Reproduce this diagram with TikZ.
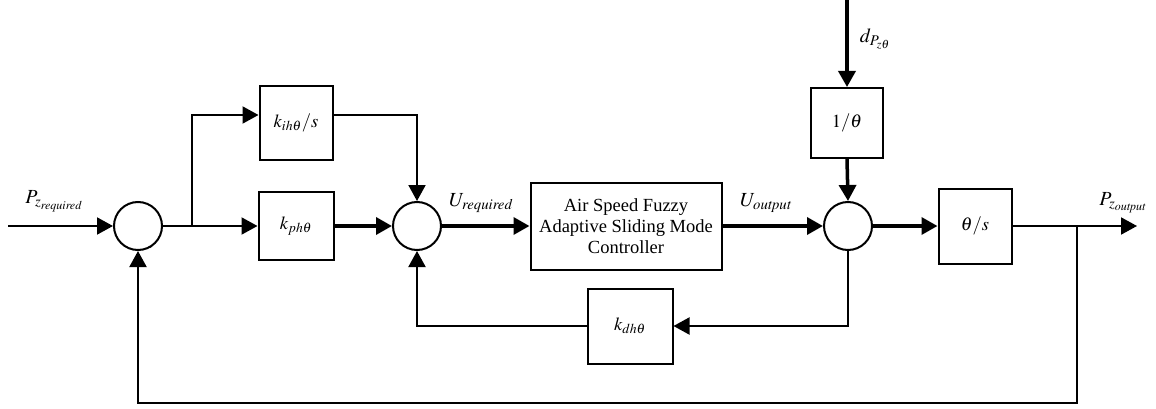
\documentclass[tikz,border=0pt]{standalone}
\usepackage{mathptmx}
\usepackage{fontspec}
\setmainfont{Liberation Serif}
\usetikzlibrary{arrows.meta}
\tikzset{
  blk/.style={rectangle, draw, line width=2pt, fill=white, align=center,
              inner sep=2pt, font=\fontsize{18.5}{21}\selectfont},
  sumc/.style={circle, draw, line width=2pt, minimum size=48pt, inner sep=0pt},
  ln/.style={line width=2pt},
  arr/.style={-{Triangle[length=16pt,width=17pt]}, line width=2pt},
  tarr/.style={arr, line width=3.5pt},
  lbl/.style={font=\fontsize{20}{22}\selectfont, inner sep=1pt},
}

\begin{document}
\begin{tikzpicture}[x=1pt, y=-1pt]
  \useasboundingbox (0,0) rectangle (1156,409);

  % ── Summing junctions ──────────────────────────────────────────────────────
  \node[sumc] at (138,226) (s1) {};
  \node[sumc] at (417,226) (s2) {};
  \node[sumc] at (848,226) (s3) {};

  % ── Gain blocks ────────────────────────────────────────────────────────────
  \node[blk, minimum width=73pt, minimum height=73pt] at (296,123) (kih)
      {$k_{ih\theta}/s$};
  \node[blk, minimum width=75pt, minimum height=68pt] at (296,226) (kph)
      {$k_{ph\theta}$};
  \node[blk, minimum width=85pt, minimum height=75pt] at (630,326) (kdh)
      {$k_{dh\theta}$};

  % ── Controller and plant ───────────────────────────────────────────────────
  \node[blk, minimum width=191pt, minimum height=87pt] at (626,226) (ctrl)
      {Air Speed Fuzzy\\Adaptive Sliding Mode\\Controller};
  \node[blk, minimum width=72pt, minimum height=70pt] at (847,123) (inv)
      {$1/\theta$};
  \node[blk, minimum width=73pt, minimum height=75pt] at (975,226) (plant)
      {$\theta/s$};

  % ── Free ends and branch points ────────────────────────────────────────────
  \coordinate (in)   at (8,226);
  \coordinate (br1)  at (192,226);
  \coordinate (dist) at (847,0);
  \coordinate (br2)  at (1077,226);
  \coordinate (out)  at (1137,226);
  \coordinate (bot)  at (1077,403);

  % ── Labels ─────────────────────────────────────────────────────────────────
  \node[lbl] at (54,201)   (lin)   {$P_{z_{\mathit{required}}}$};
  \node[font=\fontsize{10}{10}\selectfont] at (150,249) (lneg) {-};
  \node[lbl] at (481,203)  (lureq) {$U_{\mathit{required}}$};
  \node[lbl] at (766,203)  (luout) {$U_{\mathit{output}}$};
  \node[lbl] at (875,39)   (ldist) {$d_{P_{z\theta}}$};
  \node[lbl] at (1123,203) (lout)  {$P_{z_{\mathit{output}}}$};

  % ── Arrows ─────────────────────────────────────────────────────────────────
  \draw[arr] (in) -- (s1.west);
  \draw[ln] (s1.east) -- (br1);
  \draw[arr] (br1) -- (kph.west);
  \draw[arr] (br1) |- ([yshift=8pt]kih.west);
  \draw[arr] ([yshift=8pt]kih.east) -| (s2.north);
  \draw[tarr] (kph.east) -- (s2.west);
  \draw[tarr] (s2.east) -- (ctrl.west);
  \draw[tarr] (ctrl.east) -- (s3.west);
  \draw[tarr] (dist) -- (inv.north);
  \draw[tarr] (inv.south) -- (s3.north);
  \draw[tarr] (s3.east) -- (plant.west);
  \draw[arr] (plant.east) -- (out);
  \draw[arr] (s3.south) |- (kdh.east);
  \draw[arr] (kdh.west) -| (s2.south);
  \draw[arr] (br2) -- (bot) -| (s1.south);
\end{tikzpicture}
\end{document}
